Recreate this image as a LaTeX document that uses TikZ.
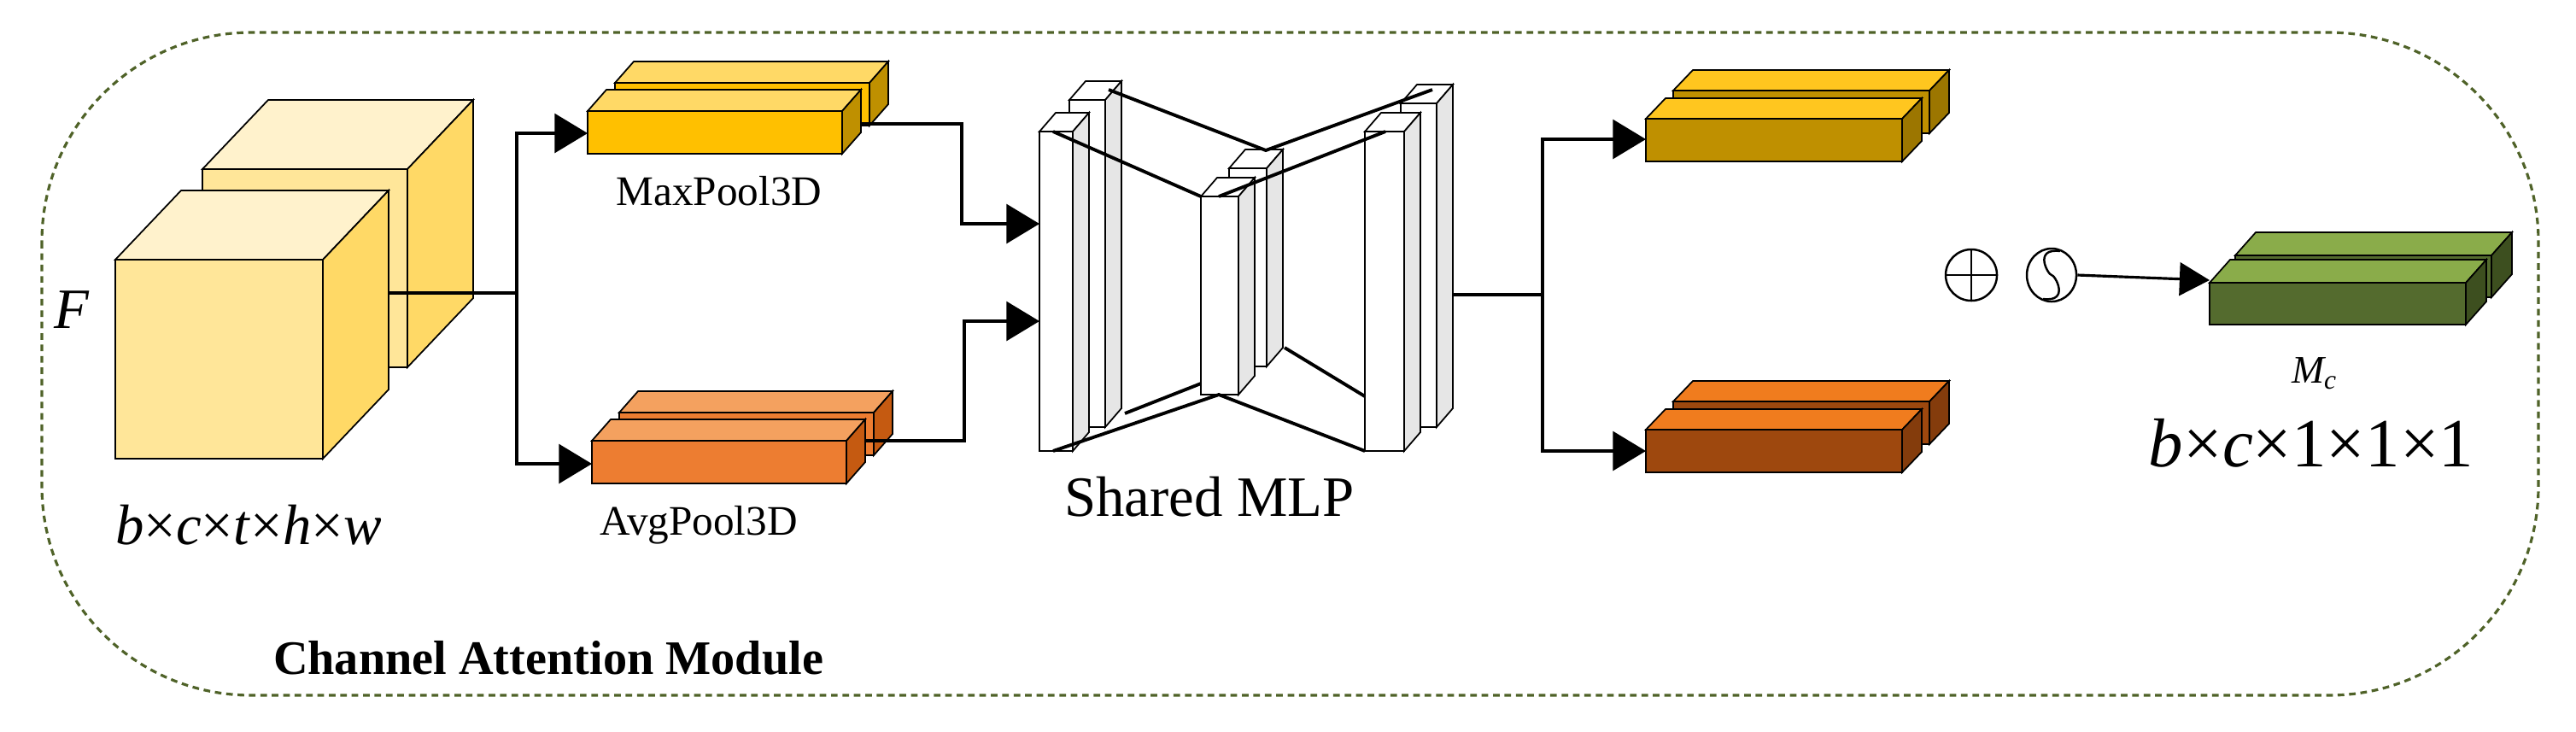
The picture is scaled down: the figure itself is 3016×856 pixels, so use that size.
\documentclass[tikz,border=0pt]{standalone}
\usepackage{fontspec}
\setmainfont{Liberation Serif}
\usetikzlibrary{arrows.meta,shapes.geometric}

\definecolor{borderc}{HTML}{4F6228}
\definecolor{cubeF}{HTML}{FFE699}
\definecolor{cubeT}{HTML}{FFF2CC}
\definecolor{cubeS}{HTML}{FFD966}
\definecolor{maxF}{HTML}{FFC000}
\definecolor{maxT}{HTML}{FFD966}
\definecolor{maxS}{HTML}{BF9000}
\definecolor{avgF}{HTML}{ED7D31}
\definecolor{avgT}{HTML}{F4A15F}
\definecolor{avgS}{HTML}{C55A11}
\definecolor{ymF}{HTML}{BF9000}
\definecolor{ymT}{HTML}{FFC61F}
\definecolor{ymS}{HTML}{9C7600}
\definecolor{omF}{HTML}{9E480E}
\definecolor{omT}{HTML}{F07C1E}
\definecolor{omS}{HTML}{843C0C}
\definecolor{mcF}{HTML}{546B2E}
\definecolor{mcT}{HTML}{8AAC4A}
\definecolor{mcS}{HTML}{3D4F1F}
\definecolor{mlpF}{HTML}{FFFFFF}
\definecolor{mlpT}{HTML}{FFFFFF}
\definecolor{mlpS}{HTML}{E6E6E6}

% cuboid: x1,y1,x2,y2 (front face), dx,dy (depth), colour prefix, name
\newcommand{\cuboid}[8]{%
  \draw[fill=#7F] (#1,#2) rectangle (#3,#4);
  \draw[fill=#7T] (#1,#2) -- ++(#5,#6) -- ++({#3-#1},0) -- (#3,#2) -- cycle;
  \draw[fill=#7S] (#3,#2) -- ++(#5,#6) -- ++(0,{#4-#2}) -- (#3,#4) -- cycle;
  \coordinate (#8-w) at (#1,{(#2+#4)/2});
  \coordinate (#8-e) at ({#3+#5},{(#2+#4)/2});
}

\begin{document}
\begin{tikzpicture}[x=0.01cm, y=-0.01cm, line width=0.5pt,
    conn/.style={line width=1.1pt},
    arr/.style={line width=1.1pt, -{Triangle[length=11pt,width=13pt]}},
    lbl/.style={inner sep=0pt, font=\fontsize{14}{16}\selectfont},
    big/.style={inner sep=0pt, font=\fontsize{19}{22}\selectfont}]

    \useasboundingbox (0,0) rectangle (3016,856);

    \draw[borderc, line width=0.9pt, dash pattern=on 2.2pt off 1.6pt,
          rounded corners=2.45cm] (49,38) rectangle (2972,814);

    % input feature
    \cuboid{237}{198}{477}{430}{77}{-81}{cube}{cubeB}
    \cuboid{135}{304}{378}{537}{77}{-81}{cube}{cubeA}
    \node[big, font=\fontsize{19}{22}\selectfont\itshape] (f) at (84,363) {F};
    \node[big] (fdim) at (291,615) {\textit{b}×\textit{c}×\textit{t}×\textit{h}×\textit{w}};

    % pooling
    \cuboid{720}{97}{1018}{147}{22}{-25}{max}{maxB}
    \cuboid{688}{130}{986}{180}{22}{-25}{max}{maxA}
    \cuboid{725}{483}{1023}{533}{22}{-25}{avg}{avgB}
    \cuboid{693}{516}{991}{566}{22}{-25}{avg}{avgA}
    \node[lbl] (maxlbl) at (842,224) {MaxPool3D};
    \node[lbl] (avglbl) at (818,615) {AvgPool3D};

    \coordinate (split) at (605,343);
    \coordinate (cubeout) at (455,343);
    \draw[conn] (cubeout) -- (split);
    \draw[arr] (split) |- (688,156);
    \draw[arr] (split) |- (693,543);

    % shared MLP
    \cuboid{1252}{117}{1294}{500}{19}{-22}{mlp}{l2}
    \cuboid{1217}{154}{1256}{528}{19}{-22}{mlp}{l1}
    \cuboid{1439}{197}{1483}{429}{19}{-22}{mlp}{m2}
    \cuboid{1406}{230}{1450}{462}{19}{-22}{mlp}{m1}
    \cuboid{1640}{121}{1682}{500}{19}{-22}{mlp}{r2}
    \cuboid{1598}{154}{1644}{528}{19}{-22}{mlp}{r1}
    \begin{scope}[conn]
        \draw (1233,154) -- (1406,230);
        \draw (1298,105) -- (1482,176) -- (1677,105);
        \draw (1427,230) -- (1622,154);
        \draw (1233,528) -- (1427,462) -- (1598,528);
        \draw (1317,484) -- (1406,449);
        \draw (1504,407) -- (1598,464);
    \end{scope}
    \node[big] (mlplbl) at (1416,582) {Shared MLP};

    \coordinate (mpin) at (1217,262);
    \coordinate (apin) at (1217,376);
    \draw[arr] (1008,145) -| (1126,262) -- (mpin);
    \draw[arr] (1013,516) -| (1129,376) -- (apin);

    % MLP outputs
    \cuboid{1959}{106}{2259}{156}{23}{-24}{ym}{ymB}
    \cuboid{1927}{139}{2227}{189}{23}{-24}{ym}{ymA}
    \cuboid{1959}{470}{2259}{520}{23}{-24}{om}{omB}
    \cuboid{1927}{503}{2227}{553}{23}{-24}{om}{omA}
    \coordinate (split2) at (1806,345);
    \draw[conn] (1701,345) -- (split2);
    \draw[arr] (split2) |- (1927,163);
    \draw[arr] (split2) |- (1927,528);

    % sum and sigmoid
    \node[draw, circle, line width=0.7pt, minimum size=0.6cm, inner sep=0pt] (plus) at (2308,322) {};
    \draw[line width=0.7pt] (plus.north) -- (plus.south) (plus.west) -- (plus.east);
    \node[draw, ellipse, line width=0.7pt, minimum width=0.58cm, minimum height=0.62cm, inner sep=0pt] (sig) at (2402,322) {};
    \draw[line width=0.7pt] (2412,294) .. controls (2380,290) and (2398,322) .. (2402,322)
                            .. controls (2406,322) and (2424,354) .. (2392,350);
    \coordinate (mcin) at (2587,328);
    \draw[line width=0.9pt, -{Triangle[length=10pt,width=11pt]}] (sig.east) -- (mcin);

    % channel attention map
    \cuboid{2617}{299}{2917}{348}{24}{-27}{mc}{mcB}
    \cuboid{2587}{331}{2887}{380}{24}{-27}{mc}{mcA}
    \node[lbl, font=\fontsize{13}{15}\selectfont\itshape] (mc) at (2710,437) {M\textsubscript{\fontsize{9}{10}\selectfont c}};
    \node[big, font=\fontsize{23}{26}\selectfont] (mcdim) at (2706,519) {\textit{b}×\textit{c}×1×1×1};

    \node[inner sep=0pt, font=\fontsize{16}{18}\selectfont\bfseries] (title) at (642,770) {Channel Attention Module};

\end{tikzpicture}
\end{document}
